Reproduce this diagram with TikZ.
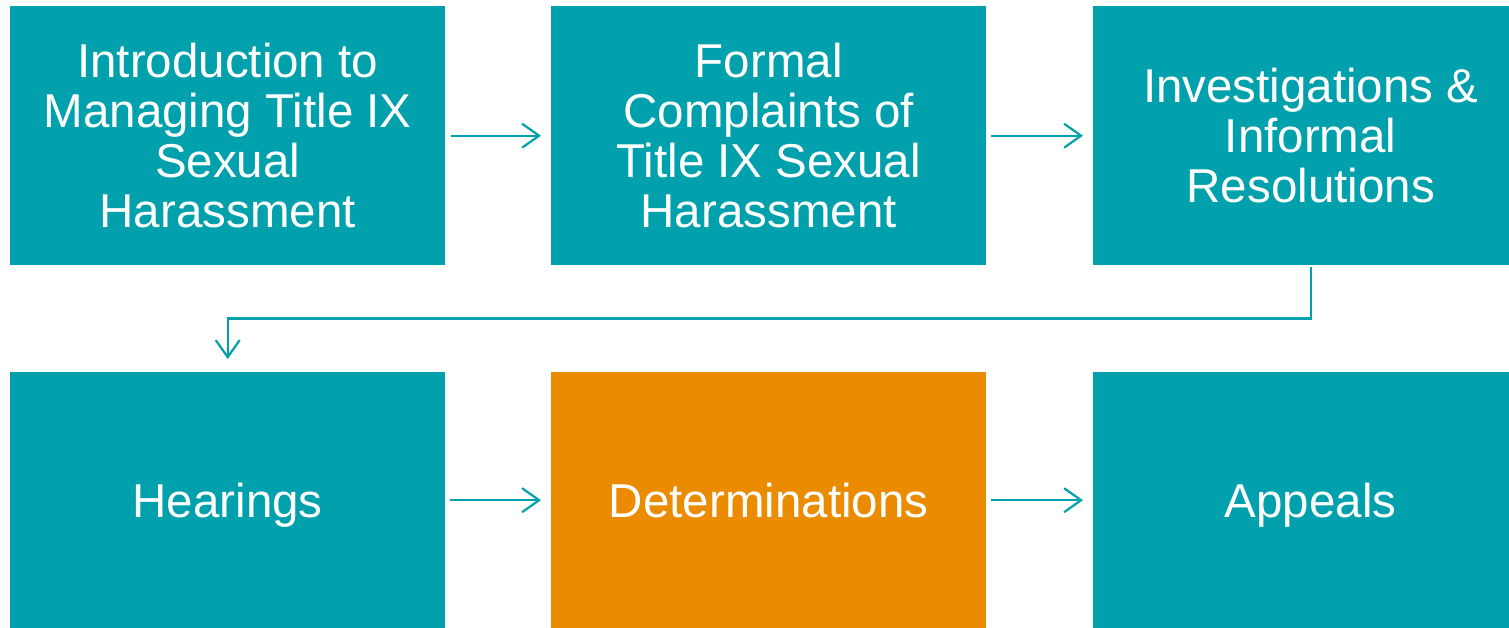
\documentclass[tikz,border=0pt]{standalone}
\usepackage{fontspec}
\setmainfont{Liberation Sans}
\usetikzlibrary{arrows.meta,positioning}
\definecolor{teal}{RGB}{0,161,172}
\definecolor{orangebox}{RGB}{234,139,0}
\begin{document}
\begin{tikzpicture}[x=1pt,y=-1pt,
  box/.style={fill=teal, draw=none, minimum width=435pt, minimum height=259pt,
    inner sep=0pt, text=white, align=center,
    font=\fontsize{47.5pt}{50pt}\selectfont, anchor=north west},
  single/.style={minimum height=256pt, text height=34pt, text depth=0pt},
  conn/.style={draw=teal, line width=2.2pt,
    -{Straight Barb[length=17pt,width=24pt,line width=2.2pt]}}]
\useasboundingbox (0,0) rectangle (1509,627);
\clip (0,0) rectangle (1509,627);
\fill[white] (0,0) rectangle (1509,627);
\node[box] (b1) at (10,6) {Introduction to\\Managing Title IX\\Sexual\\Harassment};
\node[box] (b2) at (551,6) {Formal\\Complaints of\\Title IX Sexual\\Harassment};
\node[box] (b3) at (1093,6) {Investigations \&\\Informal\\Resolutions};
\node[box, single] (b4) at (10,372) {Hearings};
\node[box, single, fill=orangebox] (b5) at (551,372) {Determinations};
\node[box, single] (b6) at (1093,372) {Appeals};
\draw[conn, shorten <=6pt, shorten >=10pt] (b1.east) -- (b2.west);
\draw[conn, shorten <=5pt, shorten >=10pt] (b2.east) -- (b3.west);
\draw[conn, shorten <=5pt, shorten >=10pt] (b4.east) -- (b5.west);
\draw[conn, shorten <=5pt, shorten >=10pt] (b5.east) -- (b6.west);
\draw[conn, shorten <=2pt, shorten >=13pt] (b3.south) -- ++(0,53) -| (b4.north);
\end{tikzpicture}
\end{document}
